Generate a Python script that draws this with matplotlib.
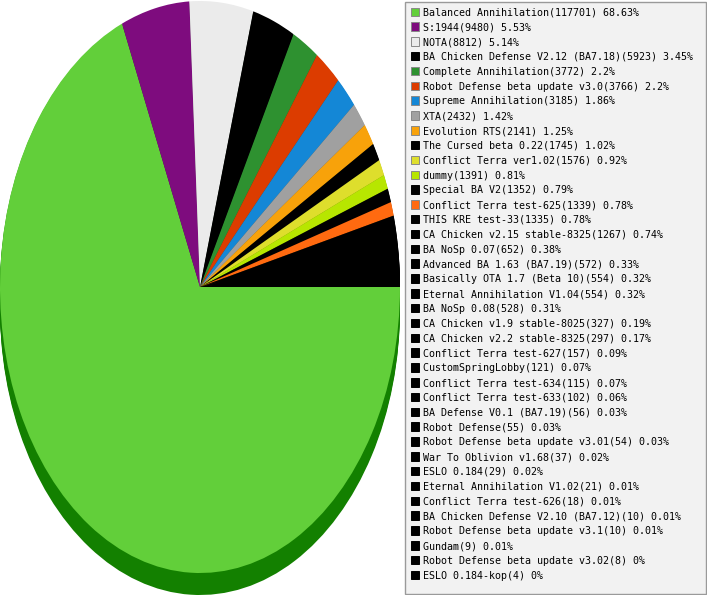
import numpy as np
import matplotlib
matplotlib.use('Agg')
import matplotlib.pyplot as plt
from matplotlib.patches import Rectangle

# mod usage counts
names = ['Balanced Annihilation', 'S:1944', 'NOTA', 'BA Chicken Defense V2.12 (BA7.18)',
         'Complete Annihilation', 'Robot Defense beta update v3.0', 'Supreme Annihilation',
         'XTA', 'Evolution RTS', 'The Cursed beta 0.22', 'Conflict Terra ver1.02', 'dummy',
         'Special BA V2', 'Conflict Terra test-625', 'THIS KRE test-33',
         'CA Chicken v2.15 stable-8325', 'BA NoSp 0.07', 'Advanced BA 1.63 (BA7.19)',
         'Basically OTA 1.7 (Beta 10)', 'Eternal Annihilation V1.04', 'BA NoSp 0.08',
         'CA Chicken v1.9 stable-8025', 'CA Chicken v2.2 stable-8325', 'Conflict Terra test-627',
         'CustomSpringLobby', 'Conflict Terra test-634', 'Conflict Terra test-633',
         'BA Defense V0.1 (BA7.19)', 'Robot Defense', 'Robot Defense beta update v3.01',
         'War To Oblivion v1.68', 'ESLO 0.184', 'Eternal Annihilation V1.02',
         'Conflict Terra test-626', 'BA Chicken Defense V2.10 (BA7.12)',
         'Robot Defense beta update v3.1', 'Gundam', 'Robot Defense beta update v3.02',
         'ESLO 0.184-kop']
counts = [117701, 9480, 8812, 5923, 3772, 3766, 3185, 2432, 2141, 1745, 1576, 1391,
          1352, 1339, 1335, 1267, 652, 572, 554, 554, 528, 327, 297, 157,
          121, 115, 102, 56, 55, 54, 37, 29, 21, 18, 10, 10, 9, 8, 4]

top_colors = ['#62cf3a', '#7e0c7e', '#ebebeb', '#000000', '#2e9130', '#dc3c00',
              '#1487d6', '#a0a0a0', '#f8a20a', '#000000', '#dede2c', '#b7e600',
              '#000000', '#ff6a10']
colors = top_colors + ['#000000'] * (len(counts) - len(top_colors))


def darker(c, f=0.55):
    r, g, b = matplotlib.colors.to_rgb(c)
    return (r * f, g * f * 1.12, b * f)


side_colors = ['#138000'] + [darker(c) for c in colors[1:]]

W, H = 707, 595
fig = plt.figure(figsize=(W / 100, H / 100), dpi=100)

# pie: squashed circle, 200 px wide radius, 286 px tall radius
cx, cy, rx, ry, depth = 200, 287, 200, 286, 22
ax = fig.add_axes([0, 0, 400 / W, 1])
for d in np.linspace(depth, 1, 12):
    ax.pie(counts, colors=side_colors, startangle=0, counterclock=False,
           center=(0, -d / ry), radius=1)
ax.pie(counts, colors=colors, startangle=0, counterclock=False, center=(0, 0), radius=1)
ax.set_aspect('auto')
ax.set_xlim(-cx / rx, (400 - cx) / rx)
ax.set_ylim(-(H - cy) / ry, cy / ry)
ax.axis('off')

# legend drawn in pixel coordinates
lg = fig.add_axes([0, 0, 1, 1])
lg.set_xlim(0, W)
lg.set_ylim(H, 0)
lg.axis('off')
lg.add_patch(Rectangle((405, 2), 301, 592, facecolor='#f2f2f2', edgecolor='#9a9a9a', lw=1))

total = sum(counts)
row0, step = 12, 14.82
for i, (n, c, col) in enumerate(zip(names, counts, colors)):
    y = row0 + i * step
    pct = '{:g}'.format(round(100 * c / total, 2))
    lg.add_patch(Rectangle((410.5, y - 4.5), 8.5, 8.5, facecolor=col,
                           edgecolor='#888888' if col != '#000000' else '#000000', lw=0.7))
    lg.text(423, y + 0.5, f'{n}({c}) {pct}%', fontsize=7.2, family='DejaVu Sans Mono',
            va='center', ha='left', color='#000000')

fig.savefig('out.png', dpi=100)
